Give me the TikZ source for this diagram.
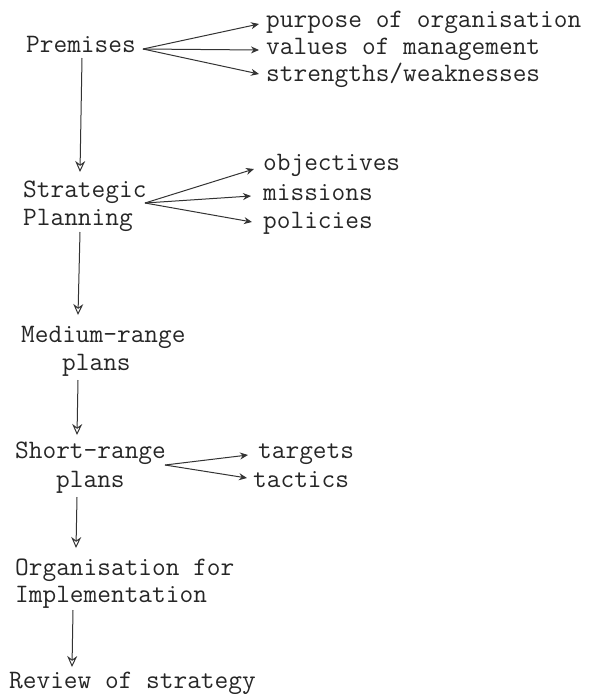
\documentclass[tikz,border=0pt]{standalone}
\usepackage{fontspec}
\usetikzlibrary{arrows.meta,calc}
\begin{document}
\begin{tikzpicture}[x=1pt,y=-1pt,
  lbl/.style={font=\ttfamily\fontsize{26.6}{29}\selectfont, inner sep=0pt, anchor=base west, text=black!85},
  downarr/.style={draw=black!80, line width=1pt, -{Stealth[open,length=11pt,width=10pt]}},
  fanarr/.style={draw=black!80, line width=1pt, -{Stealth[length=8pt,width=7pt]}}]
\useasboundingbox (0,0) rectangle (596,694);
% left column
\node[lbl] (prem)   at (26,52)  {Premises};
\node[lbl] (strat)  at (23,197) {Strategic};
\node[lbl] (plan)   at (23,225) {Planning};
\node[lbl] (med)    at (21,342) {Medium-range};
\node[lbl] (mplans) at (62,370) {plans};
\node[lbl] (short)  at (15,458) {Short-range};
\node[lbl] (splans) at (56,487) {plans};
\node[lbl] (org)    at (15,575) {Organisation for};
\node[lbl] (impl)   at (15,602) {Implementation};
\node[lbl] (rev)    at (9,688)  {Review of strategy};
% right labels
\node[lbl] (purp) at (266,27)  {purpose of organisation};
\node[lbl] (valu) at (266,54)  {values of management};
\node[lbl] (stre) at (266,81)  {strengths/weaknesses};
\node[lbl] (obj)  at (263,170) {objectives};
\node[lbl] (mis)  at (263,200) {missions};
\node[lbl] (pol)  at (263,228) {policies};
\node[lbl] (tar)  at (258,458) {targets};
\node[lbl] (tac)  at (253,487) {tactics};
% fan origins
\coordinate (pfan) at ($(prem.base west)+(117,-3)$);
\coordinate (sfan) at ($(strat.base west)+(122,6)$);
\coordinate (rfan) at ($(short.base west)+(150,7)$);
% fan arrows
\draw[fanarr] (pfan) -- ($(purp.base west)+(-7,-3)$);
\draw[fanarr] (pfan) -- ($(valu.base west)+(-7,-4)$);
\draw[fanarr] (pfan) -- ($(stre.base west)+(-7,-7)$);
\draw[fanarr] (sfan) -- ($(obj.base west)+(-9,-1)$);
\draw[fanarr] (sfan) -- ($(mis.base west)+(-12,-4)$);
\draw[fanarr] (sfan) -- ($(pol.base west)+(-11,-6)$);
\draw[fanarr] (rfan) -- ($(tar.base west)+(-10,-3)$);
\draw[fanarr] (rfan) -- ($(tac.base west)+(-6,-9)$);
% vertical arrows
\draw[downarr] ($(prem.base west)+(56,6)$)   -- ($(strat.base west)+(57,-25)$);
\draw[downarr] ($(plan.base west)+(57,7)$)   -- ($(med.base west)+(57,-27)$);
\draw[downarr] ($(mplans.base west)+(16,10)$) -- ($(short.base west)+(62,-23)$);
\draw[downarr] ($(splans.base west)+(21,10)$) -- ($(org.base west)+(61,-27)$);
\draw[downarr] ($(impl.base west)+(58,8)$)   -- ($(rev.base west)+(63,-21)$);
\end{tikzpicture}
\end{document}
